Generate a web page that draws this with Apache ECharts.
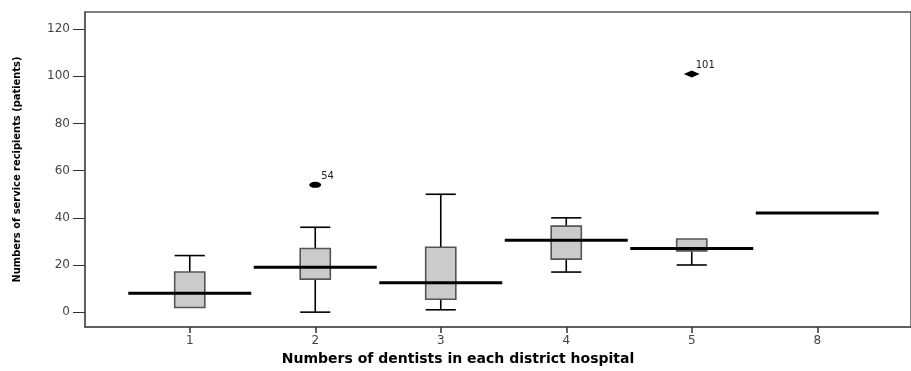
<!DOCTYPE html>
<html>
<head>
<meta charset="utf-8">
<script src="https://cdn.jsdelivr.net/npm/echarts@6/dist/echarts.min.js"></script>
<style>
html, body { margin: 0; padding: 0; background: #fff; }
#chart { width: 911px; height: 371px; }
</style>
</head>
<body>
<div id="chart"></div>
<script>
// groups on the x axis (number of dentists)
var groups = ['1', '2', '3', '4', '5', '8'];
// box plot values
var lowWhisker = [2, 0, 1, 17, 20, 42];
var q1 = [2, 14, 5.5, 22.5, 26, 42];
var medians = [8, 19, 12.5, 30.5, 27, 42];
var q3 = [17, 27, 27.5, 36.5, 31, 42];
var highWhisker = [24, 36, 50, 40, 31, 42];
// outliers
var outlierGroup = ['2', '5'];
var outlierValue = [54, 101];
var outlierLabel = ['54', '101'];
var yTicks = [0, 20, 40, 60, 80, 100, 120];

var xPos = groups.map(function (g, i) { return i + 1; });
var boxData = groups.map(function (g, i) {
    return [i + 1, lowWhisker[i], q1[i], medians[i], q3[i], highWhisker[i]];
});
var outlierData = outlierGroup.map(function (g, i) {
    return [groups.indexOf(g) + 1, outlierValue[i]];
});

function renderBox(params, api) {
    var x = api.value(0);
    var lo = api.value(1), b1 = api.value(2), md = api.value(3), b3 = api.value(4), hi = api.value(5);
    var unit = api.size([1, 0])[0];
    var half = unit * 0.12;
    var mhalf = unit * 0.49;
    var pLo = api.coord([x, lo]), p1 = api.coord([x, b1]), pMd = api.coord([x, md]);
    var p3 = api.coord([x, b3]), pHi = api.coord([x, hi]);
    var whisk = { stroke: '#000', lineWidth: 1.6 };
    var kids = [];
    if (hi > b3) {
        kids.push({ type: 'line', shape: { x1: pHi[0], y1: pHi[1], x2: p3[0], y2: p3[1] }, style: whisk });
        kids.push({ type: 'line', shape: { x1: pHi[0] - half, y1: pHi[1], x2: pHi[0] + half, y2: pHi[1] }, style: whisk });
    }
    if (lo < b1) {
        kids.push({ type: 'line', shape: { x1: pLo[0], y1: pLo[1], x2: p1[0], y2: p1[1] }, style: whisk });
        kids.push({ type: 'line', shape: { x1: pLo[0] - half, y1: pLo[1], x2: pLo[0] + half, y2: pLo[1] }, style: whisk });
    }
    if (b3 > b1) {
        kids.push({
            type: 'rect',
            shape: { x: p3[0] - half, y: p3[1], width: half * 2, height: p1[1] - p3[1] },
            style: { fill: '#cbcbcb', stroke: '#555', lineWidth: 1.6 }
        });
    }
    kids.push({
        type: 'line',
        shape: { x1: pMd[0] - mhalf, y1: pMd[1], x2: pMd[0] + mhalf, y2: pMd[1] },
        style: { stroke: '#000', lineWidth: 3 }
    });
    return { type: 'group', children: kids };
}

var chart = echarts.init(document.getElementById('chart'));
chart.setOption({
    animation: false,
    grid: {
        left: 85, top: 12, right: -2, bottom: 39,
        show: true, borderColor: '#555', borderWidth: 1.5, backgroundColor: 'transparent'
    },
    xAxis: {
        type: 'value',
        min: 0.1653,
        max: 6.747,
        name: 'Numbers of dentists in each district hospital',
        nameLocation: 'middle',
        nameGap: 25,
        nameTextStyle: {
            fontFamily: 'DejaVu Sans', fontWeight: 'bold', fontSize: 14, color: '#000',
            padding: [0, 80, 0, 0]
        },
        splitLine: { show: false },
        axisLine: { show: true, onZero: false, lineStyle: { color: '#555', width: 1.5 } },
        axisTick: { show: true, inside: false, customValues: xPos, length: 6, lineStyle: { color: '#333', width: 1.5 } },
        axisLabel: {
            customValues: xPos,
            formatter: function (v) { return groups[Math.round(v) - 1]; },
            fontFamily: 'DejaVu Sans', fontSize: 12, color: '#444', margin: 8
        }
    },
    yAxis: {
        type: 'value',
        min: -6.3,
        max: 127.3,
        name: 'Numbers of service recipients (patients)',
        nameLocation: 'middle',
        nameGap: 62,
        nameTextStyle: {
            fontFamily: '"Liberation Sans Narrow", "DejaVu Sans Condensed", sans-serif',
            fontSize: 11, fontWeight: 'bold', color: '#000'
        },
        splitLine: { show: false },
        axisLine: { show: true, lineStyle: { color: '#555', width: 1.5 } },
        axisTick: { show: true, inside: false, customValues: yTicks, length: 12, lineStyle: { color: '#333', width: 1 } },
        axisLabel: {
            customValues: yTicks,
            fontFamily: 'DejaVu Sans', fontSize: 12, color: '#444', margin: 15
        }
    },
    series: [
        {
            type: 'custom',
            renderItem: renderBox,
            encode: { x: 0, y: [1, 2, 3, 4, 5] },
            data: boxData,
            z: 2
        },
        {
            type: 'scatter',
            data: outlierData,
            symbol: function (v, p) { return p.dataIndex === 0 ? 'circle' : 'diamond'; },
            symbolSize: function (v, p) { return p.dataIndex === 0 ? [12, 6] : [16, 7]; },
            itemStyle: { color: '#000', opacity: 1 },
            label: {
                show: true,
                position: [12, -5],
                align: 'left',
                verticalAlign: 'middle',
                formatter: function (p) { return outlierLabel[p.dataIndex]; },
                fontFamily: 'DejaVu Sans', fontSize: 10, color: '#222'
            },
            z: 3
        }
    ]
});
</script>
</body>
</html>
